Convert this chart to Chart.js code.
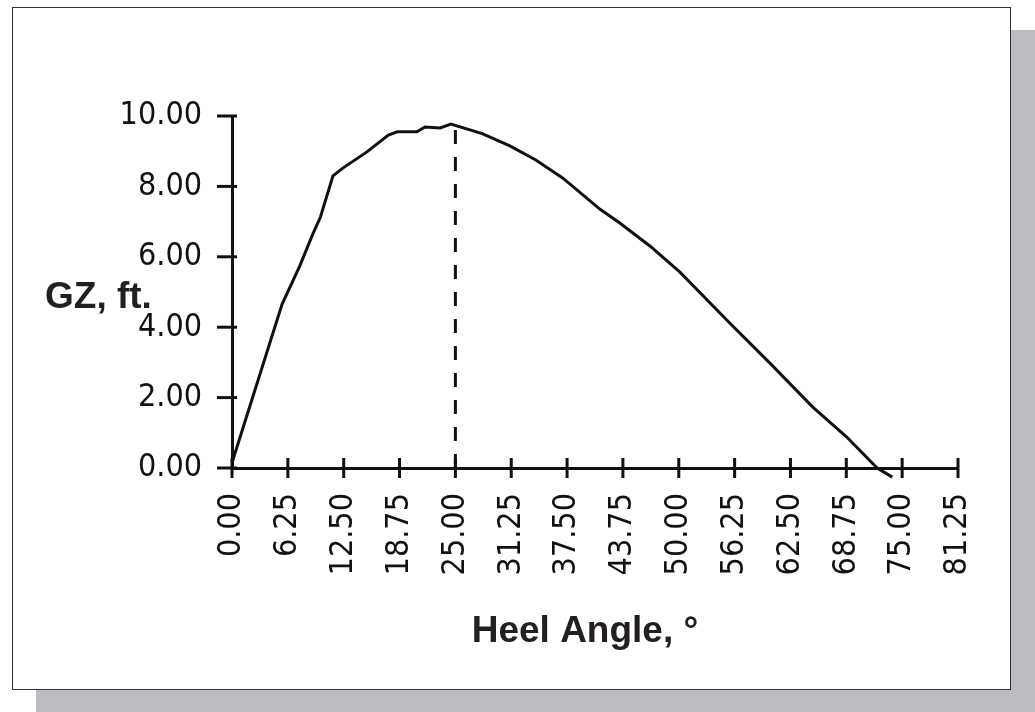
<!DOCTYPE html>
<html>
<head>
<meta charset="utf-8">
<script src="https://cdn.jsdelivr.net/npm/chart.js@4.4.1/dist/chart.umd.min.js"></script>
<style>
  html, body { margin: 0; padding: 0; background: #ffffff; }
  #stage { position: relative; width: 1035px; height: 712px; overflow: hidden; }
  #shadow { position: absolute; left: 36px; top: 30px; width: 999px; height: 682px; background: #bcbdc0; }
  #frame { position: absolute; left: 12px; top: 7px; width: 997px; height: 681px; background: #ffffff; border: 1.5px solid #333333; }
  #chart { position: absolute; left: 0; top: 0; }
</style>
</head>
<body>
<div id="stage">
  <div id="shadow"></div>
  <div id="frame"></div>
  <canvas id="chart" width="1035" height="712"></canvas>
</div>
<script>
// Righting arm (GZ) curve against heel angle
const heelAngles = [0, 5.6, 7.6, 9.1, 9.9, 11.3, 12.4, 15.1, 17.5, 18.5, 20.7, 21.6, 23.3, 24.5,
                    28.0, 31.1, 34.0, 37.0, 41.2, 43.4, 46.8, 50.1, 55.7, 60.2, 65.0, 68.8, 72.2, 73.9];
const gzValues   = [0.15, 4.65, 5.75, 6.68, 7.13, 8.3, 8.52, 8.98, 9.46, 9.55, 9.55, 9.69, 9.66, 9.77,
                    9.5, 9.15, 8.75, 8.24, 7.35, 6.96, 6.3, 5.57, 4.12, 2.98, 1.73, 0.88, 0.0, -0.26];

// Angle of maximum GZ, marked with a dashed drop line
const maxGzAngle = 25.0;
const maxGzLine  = [0, 9.65];

// Axis tick values
const xTicks = [0, 6.25, 12.5, 18.75, 25, 31.25, 37.5, 43.75, 50, 56.25, 62.5, 68.75, 75, 81.25];
const yTicks = [0, 2, 4, 6, 8, 10];

const ink = '#111111';
const tickFont = { family: "'DejaVu Sans Condensed', 'DejaVu Sans Mono', sans-serif", size: 32 };

const curve = heelAngles.map((a, i) => ({ x: a, y: gzValues[i] }));
const dropLine = maxGzLine.map(v => ({ x: maxGzAngle, y: v }));

// Tick marks that cross the axis lines, plus the two axis titles
const axisDecor = {
  id: 'axisDecor',
  afterDraw(chart) {
    const ctx = chart.ctx;
    const xs = chart.scales.x, ys = chart.scales.y;
    const area = chart.chartArea;
    ctx.save();
    ctx.strokeStyle = ink;
    ctx.lineWidth = 3;
    ctx.lineCap = 'butt';
    xTicks.forEach(v => {
      const px = xs.getPixelForValue(v);
      ctx.beginPath();
      ctx.moveTo(px, area.bottom - 10);
      ctx.lineTo(px, area.bottom + 10);
      ctx.stroke();
    });
    yTicks.forEach(v => {
      const py = ys.getPixelForValue(v);
      ctx.beginPath();
      ctx.moveTo(area.left - 15, py);
      ctx.lineTo(area.left + 5, py);
      ctx.stroke();
    });
    ctx.fillStyle = '#231f20';
    ctx.font = "bold 37px 'Liberation Sans', Arial, sans-serif";
    ctx.textBaseline = 'alphabetic';
    ctx.textAlign = 'left';
    ctx.fillText('GZ, ft.', 45, 308);
    ctx.textAlign = 'center';
    ctx.fillText('Heel Angle, \u00B0', 585, 642);
    ctx.restore();
  }
};

new Chart(document.getElementById('chart'), {
  type: 'line',
  data: {
    datasets: [
      {
        data: curve,
        borderColor: ink,
        borderWidth: 3,
        pointRadius: 0,
        tension: 0,
        fill: false,
        clip: false
      },
      {
        data: dropLine,
        borderColor: ink,
        borderWidth: 3,
        borderDash: [14, 13],
        pointRadius: 0,
        fill: false
      }
    ]
  },
  options: {
    responsive: false,
    animation: false,
    events: [],
    layout: { padding: { left: 0, top: 116, right: 77, bottom: 0 } },
    plugins: { legend: { display: false }, tooltip: { enabled: false } },
    scales: {
      x: {
        type: 'linear',
        min: 0,
        max: 81.25,
        afterBuildTicks: s => { s.ticks = xTicks.map(v => ({ value: v })); },
        afterFit: s => { s.height = 712 - 468; },
        grid: { display: false, drawTicks: false },
        border: { display: true, color: ink, width: 3 },
        ticks: {
          autoSkip: false,
          minRotation: 90,
          maxRotation: 90,
          padding: 25,
          color: ink,
          font: tickFont,
          callback: v => Number(v).toFixed(2)
        }
      },
      y: {
        type: 'linear',
        min: 0,
        max: 10,
        afterBuildTicks: s => { s.ticks = yTicks.map(v => ({ value: v })); },
        afterFit: s => { s.width = 232; },
        grid: { display: false, drawTicks: false },
        border: { display: true, color: ink, width: 3 },
        ticks: {
          padding: 30,
          color: ink,
          font: tickFont,
          callback: v => Number(v).toFixed(2)
        }
      }
    }
  },
  plugins: [axisDecor]
});
</script>
</body>
</html>
